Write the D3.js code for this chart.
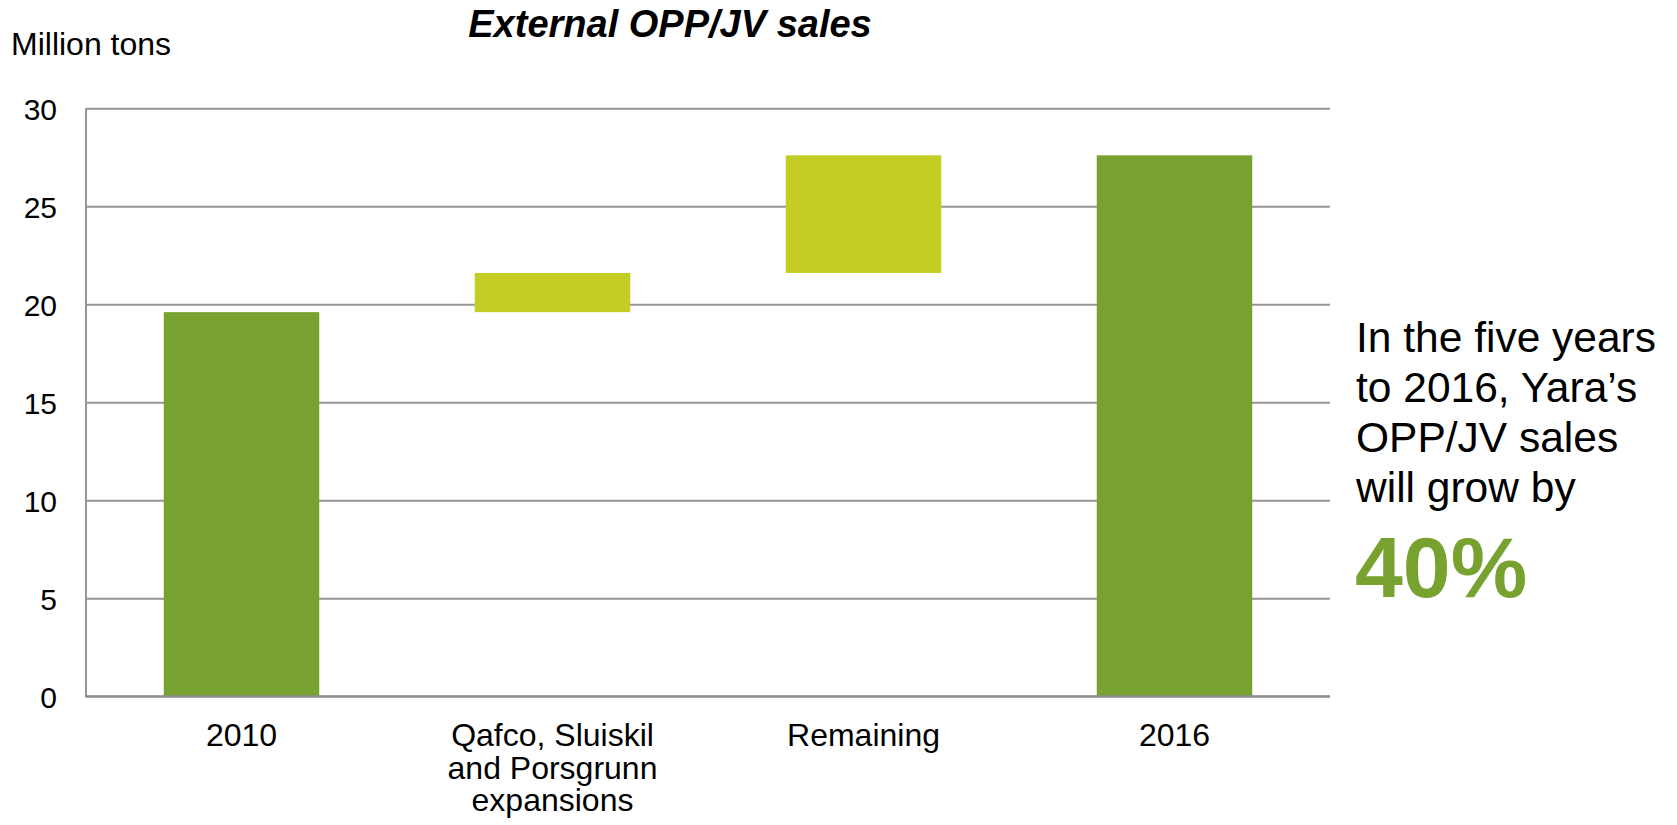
<!DOCTYPE html>
<html>
<head>
<meta charset="utf-8">
<script src="https://d3js.org/d3.v7.min.js"></script>
<style>
    body { margin: 0; background: #ffffff; }
    text { font-family: "Liberation Sans", Arial, sans-serif; fill: #000000; }
    .grid line { stroke: #959595; stroke-width: 2px; }
    .grid path { display: none; }
</style>
</head>
<body>
<script>
//=====================================================================//
//  DATA
//=====================================================================//

    // Category labels, "\n" marks a line break under the axis
    var categories = ["2010", "Qafco, Sluiskil\nand Porsgrunn\nexpansions", "Remaining", "2016"];
    // Floating waterfall bars: where each bar starts and ends (million tons)
    var barStart = [0, 19.6, 21.6, 0];
    var barEnd   = [19.6, 21.6, 27.6, 27.6];
    var barKind  = ["total", "step", "step", "total"];
    var yTicks   = [0, 5, 10, 15, 20, 25, 30];

    var noteLines = ["In the five years", "to 2016, Yara\u2019s", "OPP/JV sales", "will grow by"];
    var noteFigure = "40%";

//=====================================================================//
//  INITIALIZATION OF GRAPH
//=====================================================================//

    var width = 1677, height = 825;
    var plot = {left: 86, right: 1330, top: 108.3, bottom: 696.3};

    var colors = {total: "#78a22f", step: "#c3cd23"};

    var svg = d3.select("body")
        .append("svg")
        .attr("width", width)
        .attr("height", height);

    var data = categories.map(function(c, i) {
        return {name: c, start: barStart[i], end: barEnd[i], kind: barKind[i]};
    });

    // X scale
    var x = d3.scaleBand()
        .domain(categories)
        .range([plot.left, plot.right])
        .paddingInner(0.5)
        .paddingOuter(0.25);

    // Y scale
    var y = d3.scaleLinear()
        .domain([0, 30])
        .range([plot.bottom, plot.top]);

    // horizontal gridlines + tick labels
    var yAxis = svg.append("g")
        .attr("class", "grid")
        .attr("transform", "translate(" + plot.left + ",0)")
        .call(d3.axisLeft(y)
              .tickValues(yTicks)
              .tickSize(-(plot.right - plot.left))
              .tickPadding(29)
              .tickFormat(d3.format("d")));
    yAxis.selectAll("text")
        .style("font-size", "30px")
        .attr("dy", "0.36em");

    // vertical axis line
    svg.append("line")
        .attr("x1", plot.left).attr("x2", plot.left)
        .attr("y1", y(30)).attr("y2", y(0))
        .attr("stroke", "#959595")
        .attr("stroke-width", 2);

    // Bars
    svg.selectAll("mybar")
        .data(data)
        .join("rect")
            .attr("x", function(d) { return x(d.name); })
            .attr("width", x.bandwidth())
            .attr("y", function(d) { return y(d.end); })
            .attr("height", function(d) { return y(d.start) - y(d.end); })
            .style("fill", function(d) { return colors[d.kind]; });

    // bottom axis line drawn over the bars
    svg.append("line")
        .attr("x1", plot.left - 1).attr("x2", plot.right)
        .attr("y1", y(0)).attr("y2", y(0))
        .attr("stroke", "#8c8c8c")
        .attr("stroke-width", 2);

    // Category labels (multi line)
    var xLabels = svg.selectAll("mylabel")
        .data(data)
        .join("text")
            .attr("x", function(d) { return x(d.name) + x.bandwidth() / 2; })
            .attr("y", 746)
            .attr("text-anchor", "middle")
            .style("font-size", "32px");
    xLabels.selectAll("tspan")
        .data(function(d) { return d.name.split("\n"); })
        .join("tspan")
            .attr("x", function() { return d3.select(this.parentNode).attr("x"); })
            .attr("dy", function(d, i) { return i === 0 ? 0 : "1.02em"; })
            .text(function(d) { return d; });

//=====================================================================//
//  TITLES AND NOTE
//=====================================================================//

    svg.append("text")
        .attr("x", 670)
        .attr("y", 37)
        .attr("text-anchor", "middle")
        .style("font-size", "38px")
        .style("font-weight", "bold")
        .style("font-style", "italic")
        .text("External OPP/JV sales");

    svg.append("text")
        .attr("x", 11)
        .attr("y", 55)
        .style("font-size", "32px")
        .text("Million tons");

    svg.selectAll("mynote")
        .data(noteLines)
        .join("text")
            .attr("x", 1356)
            .attr("y", function(d, i) { return 352 + i * 50; })
            .style("font-size", "42.5px")
            .text(function(d) { return d; });

    svg.append("text")
        .attr("x", 1355)
        .attr("y", 597)
        .style("font-size", "86px")
        .style("font-weight", "bold")
        .style("fill", colors.total)
        .text(noteFigure);
</script>
</body>
</html>
